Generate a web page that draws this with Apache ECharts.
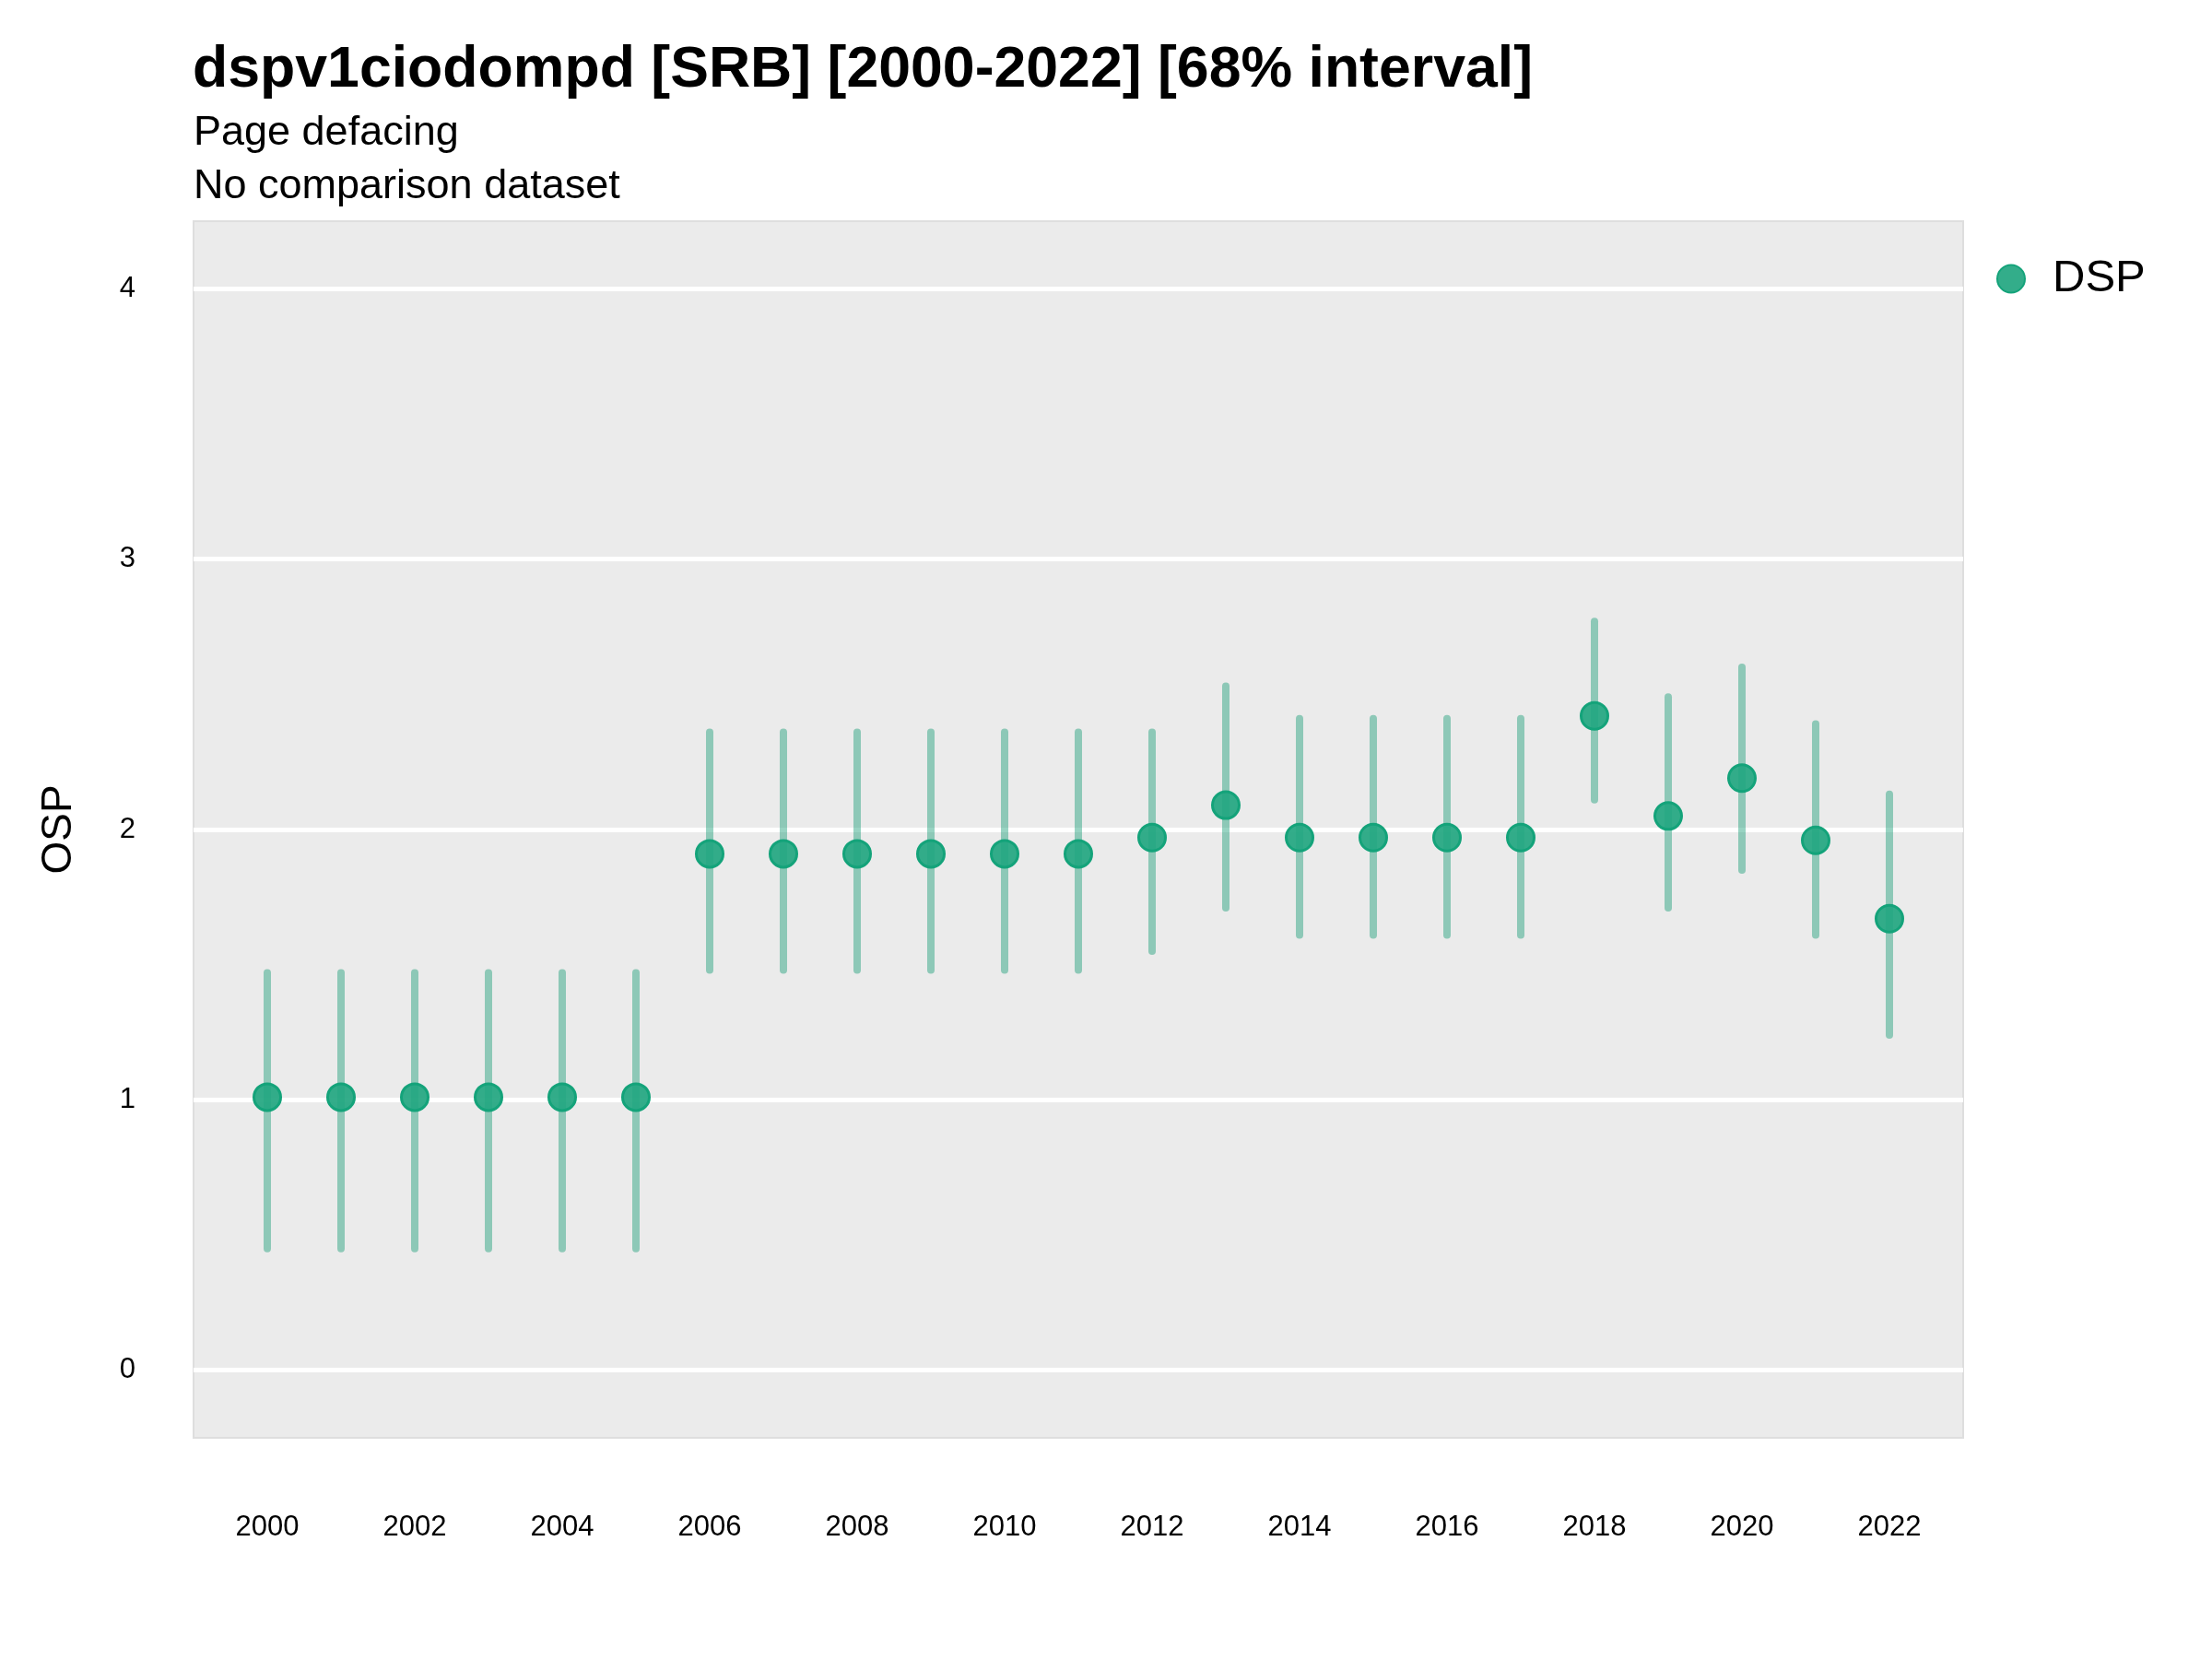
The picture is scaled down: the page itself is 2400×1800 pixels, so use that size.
<!DOCTYPE html>
<html><head><meta charset="utf-8">
<script src="https://cdn.jsdelivr.net/npm/echarts@6/dist/echarts.min.js"></script>
<style>html,body{margin:0;padding:0;background:#fff}#c{width:2400px;height:1800px}</style>
</head><body><div id="c"></div>
<script>
const years = [2000,2001,2002,2003,2004,2005,2006,2007,2008,2009,2010,2011,2012,2013,2014,2015,2016,2017,2018,2019,2020,2021,2022];
const osp   = [1.01,1.01,1.01,1.01,1.01,1.01,1.91,1.91,1.91,1.91,1.91,1.91,1.97,2.09,1.97,1.97,1.97,1.97,2.42,2.05,2.19,1.96,1.67];
const lower = [0.45,0.45,0.45,0.45,0.45,0.45,1.48,1.48,1.48,1.48,1.48,1.48,1.55,1.71,1.61,1.61,1.61,1.61,2.11,1.71,1.85,1.61,1.24];
const upper = [1.47,1.47,1.47,1.47,1.47,1.47,2.36,2.36,2.36,2.36,2.36,2.36,2.36,2.53,2.41,2.41,2.41,2.41,2.77,2.49,2.60,2.39,2.13];
const yTicks = [0,1,2,3,4];
const xTicks = [2000,2002,2004,2006,2008,2010,2012,2014,2016,2018,2020,2022];

const FONT = 'Liberation Sans';
const chart = echarts.init(document.getElementById('c'));
const barData = years.map((y,i)=>[y, lower[i], upper[i]]);
const ptData = years.map((y,i)=>[y, osp[i]]);

chart.setOption({
  backgroundColor: '#ffffff',
  animation: false,
  textStyle: {fontFamily: FONT},
  title: [
    {text: 'dspv1ciodompd [SRB] [2000-2022] [68% interval]', left: 204, top: 41,
     textStyle: {fontFamily: FONT, fontWeight: 'bold', fontSize: 62.6, color: '#000', lineHeight: 62}},
    {text: 'Page defacing', left: 205, top: 117,
     textStyle: {fontFamily: FONT, fontWeight: 'normal', fontSize: 45, color: '#000', lineHeight: 45}},
    {text: 'No comparison dataset', left: 205, top: 175,
     textStyle: {fontFamily: FONT, fontWeight: 'normal', fontSize: 45, color: '#000', lineHeight: 45}}
  ],
  grid: {left: 210, top: 240, width: 1920, height: 1320,
         show: true, backgroundColor: '#EBEBEB', borderColor: '#DEDEDE', borderWidth: 2},
  legend: {
    data: ['DSP'], left: 2166, top: 278, orient: 'vertical', icon: 'circle',
    itemWidth: 30, itemHeight: 30, padding: 0,
    textStyle: {fontFamily: FONT, fontSize: 49, color: '#000', padding: [0,0,0,25]}
  },
  xAxis: {
    type: 'value', min: 1999, max: 2023, interval: 1,
    axisLine: {show: false}, axisTick: {show: false}, splitLine: {show: false},
    axisLabel: {
      margin: 82, fontSize: 31, color: '#000', fontFamily: FONT,
      formatter: v => xTicks.includes(v) ? String(v) : ''
    }
  },
  yAxis: {
    type: 'value', min: -0.25, max: 4.25, interval: 0.25,
    name: 'OSP', nameLocation: 'middle', nameGap: 123, nameRotate: 90,
    nameTextStyle: {fontFamily: FONT, fontSize: 46, color: '#000'},
    axisLine: {show: false}, axisTick: {show: false},
    axisLabel: {
      margin: 63, fontSize: 31, color: '#000', fontFamily: FONT,
      formatter: v => yTicks.includes(v) ? String(v) : ''
    },
    splitLine: {show: true, lineStyle: {width: 5, color: ['rgba(0,0,0,0)','#ffffff','rgba(0,0,0,0)','rgba(0,0,0,0)']}}
  },
  series: [
    {
      type: 'custom', name: 'interval', data: barData, z: 2,
      renderItem: (params, api) => {
        const x = api.value(0), lo = api.value(1), hi = api.value(2);
        const p1 = api.coord([x, lo]), p2 = api.coord([x, hi]);
        return {type: 'line', shape: {x1: p1[0], y1: p1[1], x2: p2[0], y2: p2[1]},
                style: {stroke: 'rgba(27,158,119,0.45)', lineWidth: 8, lineCap: 'round'}};
      }
    },
    {
      type: 'scatter', name: 'DSP', data: ptData, z: 3, symbol: 'circle', symbolSize: 29,
      itemStyle: {color: 'rgba(34,166,128,0.92)', borderColor: '#14a37a', borderWidth: 3, opacity: 1}
    }
  ]
});
</script></body></html>
